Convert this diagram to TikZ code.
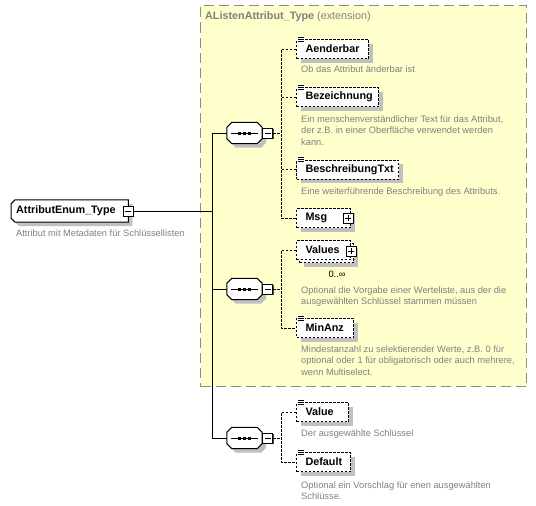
\documentclass[tikz,border=0pt]{standalone}
\usepackage{fontspec}
\setmainfont{Liberation Sans}
\usetikzlibrary{calc,shadows}
\definecolor{extfill}{HTML}{FFFFCC}
\definecolor{desccol}{HTML}{808080}
\definecolor{shad}{HTML}{C0C0C0}
\definecolor{extborder}{HTML}{8C8C8C}
\newcommand\octpath[3]{% node, shift, corner
  ($(#1.north west)+(#3,0)+#2$) -- ($(#1.north east)+(-#3,0)+#2$) -- ($(#1.north east)+(0,#3)+#2$) --
  ($(#1.south east)+(0,-#3)+#2$) -- ($(#1.south east)+(-#3,0)+#2$) -- ($(#1.south west)+(#3,0)+#2$) --
  ($(#1.south west)+(0,-#3)+#2$) -- ($(#1.north west)+(0,#3)+#2$) -- cycle}
\newcommand\seqdraw[1]{%
  \fill[shad] \octpath{#1}{(4,4)}{5};
  \draw[fill=white,line width=1pt] \octpath{#1}{(0,0)}{5};
  \draw[line width=1pt] ($(#1.west)+(4,0)$) -- ($(#1.east)+(-4,0)$);
  \foreach \dx in {-5,0,5}{\fill ($(#1.center)+(\dx-1.5,-1.5)$) rectangle ($(#1.center)+(\dx+1.5,1.5)$);}
}
\newcommand\eqicon[1]{%
  \fill[white] ($(#1.north west)+(1,-3.5)$) rectangle ($(#1.north west)+(8.5,3)$);
  \foreach \dy in {-2.2,0,2.2}{\draw[line width=0.6pt] ($(#1.north west)+(2,\dy)$) -- ($(#1.north west)+(7.5,\dy)$);}
}
\newcommand\minussign[1]{\draw[line width=1pt] ($(#1.west)+(2.5,0)$) -- ($(#1.east)+(-2.5,0)$);}
\newcommand\plussign[1]{\draw[line width=1pt] ($(#1.west)+(2.5,0)$) -- ($(#1.east)+(-2.5,0)$) ($(#1.north)+(0,2.5)$) -- ($(#1.south)+(0,-2.5)$);}
\begin{document}
\begin{tikzpicture}[x=1pt,y=-1pt,
  elem/.style={draw, line width=1pt, dash pattern=on 2.5pt off 1.5pt, fill=white,
    font=\bfseries\fontsize{10.8}{12}\selectfont, minimum height=19pt, inner xsep=9pt, inner ysep=0pt,
    anchor=west, align=left,
    general shadow={fill=shad, draw=none, shadow xshift=4pt, shadow yshift=-4pt}},
  stackelem/.style={draw, line width=1pt, dash pattern=on 2.5pt off 1.5pt, fill=white,
    font=\bfseries\fontsize{10.8}{12}\selectfont, minimum height=19pt, inner xsep=9pt, inner ysep=0pt,
    anchor=west, align=left,
    general shadow={fill=shad, draw=none, shadow xshift=7pt, shadow yshift=-7pt},
    copy shadow={shadow xshift=3pt, shadow yshift=-3pt}},
  desc/.style={text=desccol, font=\fontsize{9.3}{11.5}\selectfont, anchor=base west, inner sep=0pt, align=left},
  pm/.style={draw, line width=1pt, fill=white, minimum size=10pt, inner sep=0pt, solid,
    general shadow={fill=black!70, draw=none, shadow xshift=1pt, shadow yshift=-1pt}},
  seqbox/.style={minimum width=35pt, minimum height=21pt, inner sep=0pt},
  conn/.style={line width=1pt},
  dconn/.style={line width=1pt, dash pattern=on 2.5pt off 1.5pt}
]
\useasboundingbox (0,0) rectangle (536,506);
% extension box
\node (ext) [draw=extborder, line width=1pt, dash pattern=on 10pt off 5pt, fill=extfill,
  minimum width=326pt, minimum height=381pt, anchor=north west, inner sep=0pt] at (200,5) {};
\node (exttitle) [anchor=west, text=desccol, font=\fontsize{10.8}{12}\selectfont, inner sep=0pt] at (205,17)
  {\textbf{AListenAttribut\_Type} (extension)};

% root
\node (root) [anchor=west, minimum width=117pt, minimum height=22pt, inner sep=0pt] at (11,211) {};
\fill[shad] ($(root.north west)+(4,4)+(4,0)$) -- ($(root.north east)+(4,4)$) -- ($(root.south east)+(4,4)$)
  -- ($(root.south west)+(4,4)+(4,0)$) -- ($(root.south west)+(4,4)+(0,-4)$) -- ($(root.north west)+(4,4)+(0,4)$) -- cycle;
\draw[fill=white, line width=1pt] ($(root.north west)+(4,0)$) -- (root.north east) -- (root.south east)
  -- ($(root.south west)+(4,0)$) -- ($(root.south west)+(0,-4)$) -- ($(root.north west)+(0,4)$) -- cycle;
\node[anchor=west, inner sep=0pt, font=\bfseries\fontsize{10.8}{12}\selectfont] (roottext) at ($(root.west)+(5,0)$) {AttributEnum\_Type};
\node[pm] (rpm) at (root.east) {};
\minussign{rpm}
\node[desc] (rootdesc) at (16,236) {Attribut mit Metadaten für Schlüssellisten};

% compositors
\node[seqbox] (seq1) at (244.5,133) {};
\node[seqbox] (seq2) at (244.5,289) {};
\node[seqbox] (seq3) at (244.5,438) {};
\seqdraw{seq1}\seqdraw{seq2}\seqdraw{seq3}
\node[pm] (pm1) at ($(seq1.east)+(5.5,0)$) {}; \minussign{pm1}
\node[pm] (pm2) at ($(seq2.east)+(5.5,0)$) {}; \minussign{pm2}
\node[pm] (pm3) at ($(seq3.east)+(5.5,0)$) {}; \minussign{pm3}

% elements group 1
\node[elem, text width=54pt] (aend) at (296,49) {Aenderbar};
\eqicon{aend}
\node[desc] (aenddesc) at (301,72) {Ob das Attribut änderbar ist};
\node[elem, text width=64pt] (bez) at (296,97) {Bezeichnung};
\eqicon{bez}
\node[desc] (bezdesc) at (301,145) {Ein menschenverständlicher Text für das Attribut,\\der z.B. in einer Oberfläche verwendet werden\\kann.};
\node[elem, text width=84pt] (besch) at (296,169.5) {BeschreibungTxt};
\eqicon{besch}
\node[desc] (beschdesc) at (301,194) {Eine weiterführende Beschreibung des Attributs.};
\node[elem, text width=36pt] (msg) at (296,218) {Msg};
\node[pm] (msgpm) at ($(msg.east)+(-3,0)$) {}; \plussign{msgpm}

% elements group 2
\node[stackelem, text width=36pt] (values) at (296,250) {Values};
\node[pm] (valpm) at ($(values.east)+(0,1)$) {}; \plussign{valpm}
\node[anchor=base, inner sep=0pt, font=\fontsize{9.3}{10}\selectfont] (valocc) at (337,277) {0..∞};
\node[desc] (valdesc) at (301,304.5) {Optional die Vorgabe einer Werteliste, aus der die\\ausgewählten Schlüssel stammen müssen};
\node[elem, text width=39pt] (minanz) at (296,328) {MinAnz};
\eqicon{minanz}
\node[desc] (minanzdesc) at (301,375) {Mindestanzahl zu selektierender Werte, z.B. 0 für\\optional oder 1 für obligatorisch oder auch mehrere,\\wenn Multiselect.};

% elements group 3
\node[elem, text width=34pt] (value) at (296,412) {Value};
\eqicon{value}
\node[desc] (valuedesc) at (301,436) {Der ausgewählte Schlüssel};
\node[elem, text width=36pt] (default) at (296,462) {Default};
\eqicon{default}
\node[desc] (defaultdesc) at (301,499.5) {Optional ein Vorschlag für enen ausgewählten\\Schlüsse.};

% connectors
\coordinate (spine) at (212,0);
\coordinate (dx) at (281,0);
\draw[conn] (rpm.east) -- (rpm.east -| spine);
\draw[conn] (seq1.west) -- (seq1.west -| spine) -- (seq3.west -| spine) -- (seq3.west);
\draw[conn] (seq2.west -| spine) -- (seq2.west);
\draw[dconn] (pm1.east) -- (pm1.east -| dx);
\draw[dconn] (aend.west) -- (aend.west -| dx) -- (msg.west -| dx) -- (msg.west);
\draw[dconn] (bez.west) -- (bez.west -| dx);
\draw[dconn] (besch.west) -- (besch.west -| dx);
\draw[dconn] (pm2.east) -- (pm2.east -| dx);
\draw[dconn] (values.west) -- (values.west -| dx) -- (minanz.west -| dx) -- (minanz.west);
\draw[dconn] (pm3.east) -- (pm3.east -| dx);
\draw[dconn] (value.west) -- (value.west -| dx) -- (default.west -| dx) -- (default.west);
\end{tikzpicture}
\end{document}
